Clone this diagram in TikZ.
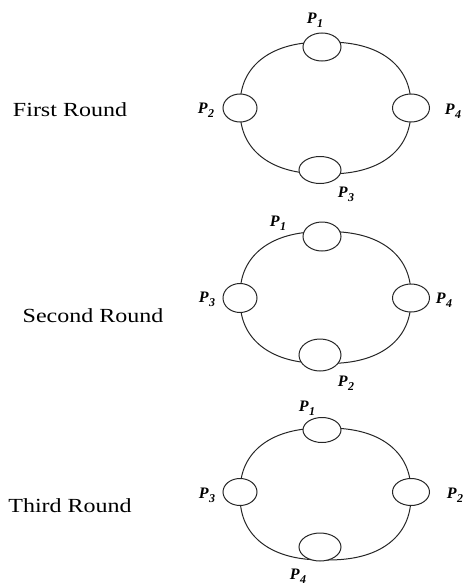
\documentclass[tikz,border=0pt]{standalone}
\usepackage{fontspec}
\setmainfont{Liberation Serif}
\usetikzlibrary{shapes.geometric}
\tikzset{
  ringline/.style={draw=black!85, line width=1pt},
  proc/.style={draw=black!85, line width=1pt, ellipse, fill=white, inner sep=0pt},
  plabel/.style={font=\fontsize{16}{16}\selectfont\bfseries\itshape, inner sep=0pt},
  roundtxt/.style={font=\fontsize{20}{20}\selectfont, inner sep=0pt, xscale=1.2}
}
\newcommand{\PP}[1]{P\kern0.5pt\raisebox{-4pt}{\fontsize{12}{12}\selectfont #1}}
% superellipse ring: centre x, centre y
\newcommand{\ringat}[2]{%
  \draw[ringline] plot[domain=1:357, samples=90, smooth cycle, variable=\t]
    ({#1+85.5*sign(cos(\t))*pow(abs(cos(\t)),0.85)},
     {#2+66*sign(sin(\t))*pow(abs(sin(\t)),0.85)});}
\begin{document}
\begin{tikzpicture}[x=1pt,y=-1pt]
\useasboundingbox (0,0) rectangle (466,586);
% ---------- First round ----------
\node[roundtxt] (t1) at (70,110) {First Round};
\coordinate (r1) at (325.5,108);
\ringat{325.5}{108}
\node[proc, minimum width=38pt, minimum height=28pt] (a1) at (322,47) {};
\node[proc, minimum width=34pt, minimum height=28pt] (b1) at (240,108) {};
\node[proc, minimum width=37pt, minimum height=28pt] (c1) at (411,108) {};
\node[proc, minimum width=42pt, minimum height=27pt] (d1) at (320,170) {};
\node[plabel] (la1) at (315,20) {\PP{1}};
\node[plabel] (lb1) at (206,110) {\PP{2}};
\node[plabel] (lc1) at (453,111) {\PP{4}};
\node[plabel] (ld1) at (346,194) {\PP{3}};
% ---------- Second round ----------
\node[roundtxt] (t2) at (93,316) {Second Round};
\coordinate (r2) at (325.5,297.5);
\ringat{325.5}{297.5}
\node[proc, minimum width=38pt, minimum height=29pt] (a2) at (322,236.5) {};
\node[proc, minimum width=34pt, minimum height=29pt] (b2) at (240,298) {};
\node[proc, minimum width=37pt, minimum height=28pt] (c2) at (411,298) {};
\node[proc, minimum width=42pt, minimum height=32pt] (d2) at (320,355) {};
\node[plabel] (la2) at (278,223) {\PP{1}};
\node[plabel] (lb2) at (207,299) {\PP{3}};
\node[plabel] (lc2) at (444,300) {\PP{4}};
\node[plabel] (ld2) at (346,383) {\PP{2}};
% ---------- Third round ----------
\node[roundtxt] (t3) at (70,506) {Third Round};
\coordinate (r3) at (325.5,494);
\ringat{325.5}{494}
\node[proc, minimum width=38pt, minimum height=25pt] (a3) at (322,430) {};
\node[proc, minimum width=34pt, minimum height=27pt] (b3) at (240,492) {};
\node[proc, minimum width=37pt, minimum height=27pt] (c3) at (411,492) {};
\node[proc, minimum width=42pt, minimum height=28pt] (d3) at (320,547) {};
\node[plabel] (la3) at (307,408) {\PP{1}};
\node[plabel] (lb3) at (207,495) {\PP{3}};
\node[plabel] (lc3) at (455,495) {\PP{2}};
\node[plabel] (ld3) at (298,576) {\PP{4}};
\end{tikzpicture}
\end{document}
